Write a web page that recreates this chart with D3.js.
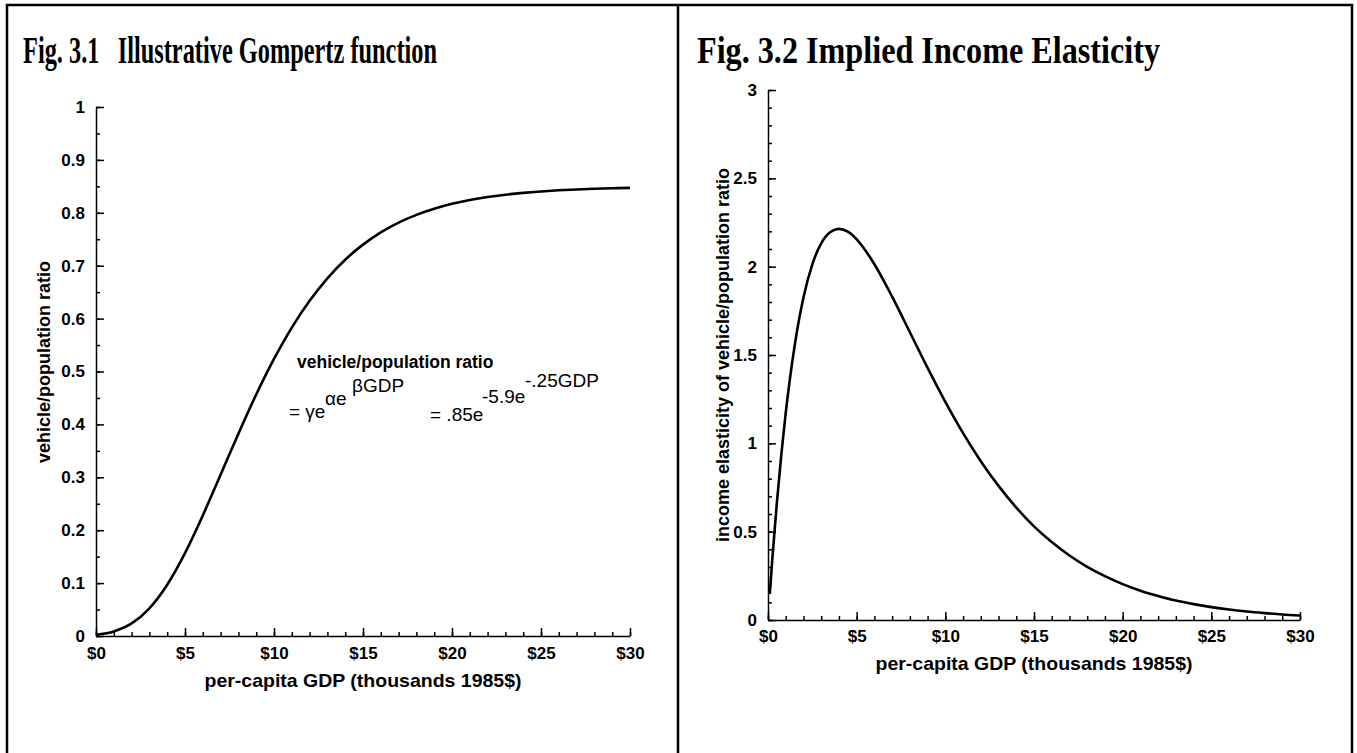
<!DOCTYPE html>
<html><head><meta charset="utf-8">
<script src="https://cdn.jsdelivr.net/npm/d3@7"></script>
<style>body{margin:0;background:#fff;overflow:hidden}</style>
</head><body><svg id="c" width="1357" height="753"></svg>
<script>
// ---- data ----
const gdpLeft = [0,1,2,3,4,5,6,7,8,9,10,11,12,13,14,15,16,17,18,19,20,21,22,23,24,25,26,27,28,29,30];
const vehicleRatio = [0.0023,0.0086,0.0237,0.0524,0.0970,0.1568,0.2279,0.3049,0.3825,0.4564,0.5237,0.5830,0.6336,0.6762,0.7113,0.7398,0.7629,0.7814,0.7961,0.8077,0.8169,0.8241,0.8298,0.8342,0.8377,0.8404,0.8425,0.8441,0.8454,0.8464,0.8472];
const gdpRight = [0.1,0.25,0.5,0.75,1,1.5,2,2.5,3,3.5,4,4.5,5,6,7,8,9,10,11,12,13,14,15,16,17,18,19,20,21,22,23,24,25,26,27,28,29,30];
const elasticity = [0.147,0.353,0.664,0.935,1.172,1.551,1.825,2.013,2.132,2.195,2.214,2.198,2.155,2.014,1.830,1.629,1.427,1.235,1.058,0.899,0.759,0.636,0.530,0.441,0.365,0.301,0.248,0.203,0.166,0.136,0.110,0.090,0.073,0.059,0.048,0.039,0.031,0.025];
const xTickValues = [0,5,10,15,20,25,30];
const xTickLabels = ["$0","$5","$10","$15","$20","$25","$30"];
const yTickValuesLeft = [0,0.1,0.2,0.3,0.4,0.5,0.6,0.7,0.8,0.9,1];
const yTickLabelsLeft = ["0","0.1","0.2","0.3","0.4","0.5","0.6","0.7","0.8","0.9","1"];
const yTickValuesRight = [0,0.5,1,1.5,2,2.5,3];
const yTickLabelsRight = ["0","0.5","1","1.5","2","2.5","3"];
const titles = ["Fig. 3.1   Illustrative Gompertz function","Fig. 3.2 Implied Income Elasticity"];
const xTitle = "per-capita GDP (thousands 1985$)";
const yTitles = ["vehicle/population ratio","income elasticity of vehicle/population ratio"];

const svg = d3.select("#c");
const SANS = "Liberation Sans, Arial, sans-serif";
const SERIF = "Liberation Serif, Times New Roman, serif";

// frames
svg.append("path").attr("d","M7,753 V5 H1352 V753").attr("fill","none").attr("stroke","#000").attr("stroke-width",2.5);
svg.append("line").attr("x1",678).attr("x2",678).attr("y1",5).attr("y2",753).attr("stroke","#000").attr("stroke-width",2.5);

// titles
svg.append("text").attr("x",23).attr("y",63).text(titles[0])
  .attr("font-family",SERIF).attr("font-weight","bold").attr("font-size",37)
  .attr("textLength",414).attr("lengthAdjust","spacingAndGlyphs").style("white-space","pre");
svg.append("text").attr("x",697).attr("y",63).text(titles[1])
  .attr("font-family",SERIF).attr("font-weight","bold").attr("font-size",37)
  .attr("textLength",463).attr("lengthAdjust","spacingAndGlyphs");

function panel(cfg){
  const x = d3.scaleLinear().domain([0,30]).range([cfg.x0,cfg.x1]);
  const y = d3.scaleLinear().domain(cfg.ydom).range([cfg.y0,cfg.y1]);
  const g = svg.append("g");
  // minor ticks
  g.append("g").attr("transform",`translate(0,${cfg.y0})`)
    .call(d3.axisBottom(x).tickValues(d3.range(0,31,1)).tickSizeInner(-4).tickSizeOuter(0).tickFormat(""))
    .call(s=>s.select(".domain").remove());
  g.append("g").attr("transform",`translate(${cfg.x0},0)`)
    .call(d3.axisLeft(y).tickValues(cfg.minor).tickSizeInner(-4).tickSizeOuter(0).tickFormat(""))
    .call(s=>s.select(".domain").remove());
  // major axes
  g.append("g").attr("transform",`translate(0,${cfg.y0})`)
    .call(d3.axisBottom(x).tickValues(xTickValues).tickSizeInner(-8).tickSizeOuter(0).tickPadding(cfg.xpad)
      .tickFormat((d,i)=>xTickLabels[i]));
  g.append("g").attr("transform",`translate(${cfg.x0},0)`)
    .call(d3.axisLeft(y).tickValues(cfg.yticks).tickSizeInner(-8).tickSizeOuter(0).tickPadding(11)
      .tickFormat((d,i)=>cfg.ylabels[i]));
  g.selectAll(".tick line, .domain").attr("stroke","#000").attr("stroke-width",1.5);
  g.selectAll(".tick text").attr("font-family",SANS).attr("font-weight","bold").attr("font-size",17).attr("fill","#000");
  // axis titles
  g.append("text").attr("x",(cfg.x0+cfg.x1)/2).attr("y",cfg.xtitleY).attr("text-anchor","middle")
    .attr("font-family",SANS).attr("font-weight","bold").attr("font-size",19).text(xTitle)
    .attr("textLength",317).attr("lengthAdjust","spacingAndGlyphs");
  g.append("text").attr("transform",`translate(${cfg.ytx},${cfg.yty}) rotate(-90)`).attr("text-anchor","middle")
    .attr("font-family",SANS).attr("font-weight","bold").attr("font-size",cfg.ytsize).text(cfg.ytitle);
  // curve
  const line = d3.line().x(d=>x(d[0])).y(d=>y(d[1])).curve(d3.curveMonotoneX);
  g.append("path").datum(cfg.xs.map((v,i)=>[v,cfg.ys[i]])).attr("d",line)
    .attr("fill","none").attr("stroke","#000").attr("stroke-width",2.6);
  return {x,y,g};
}

const L = panel({x0:96,x1:630,y0:636,y1:107,ydom:[0,1],yticks:yTickValuesLeft,ylabels:yTickLabelsLeft,
  minor:d3.range(0,21).map(i=>i*0.05),xpad:11,xtitleY:687,ytx:50,yty:362,ytitle:yTitles[0],ytsize:18,
  xs:gdpLeft,ys:vehicleRatio});
const R = panel({x0:768,x1:1300,y0:620,y1:90,ydom:[0,3],yticks:yTickValuesRight,ylabels:yTickLabelsRight,
  minor:d3.range(0,31).map(i=>i*0.1),xpad:10,xtitleY:670,ytx:729,yty:355,ytitle:yTitles[1],ytsize:18,
  xs:gdpRight,ys:elasticity});

// annotation (left panel)
const A = L.g.append("g").attr("font-family",SANS).attr("fill","#000");
A.append("text").attr("x",297).attr("y",368).attr("font-weight","bold").attr("font-size",17.5).text("vehicle/population ratio");
A.append("text").attr("x",289).attr("y",418).attr("font-size",19).text("= γe");
A.append("text").attr("x",325).attr("y",405).attr("font-size",19).text("αe");
A.append("text").attr("x",352).attr("y",392).attr("font-size",19).text("βGDP");
A.append("text").attr("x",430).attr("y",421).attr("font-size",19).text("= .85e");
A.append("text").attr("x",482).attr("y",403).attr("font-size",19).text("-5.9e");
A.append("text").attr("x",525).attr("y",387).attr("font-size",19).text("-.25GDP");
</script></body></html>
